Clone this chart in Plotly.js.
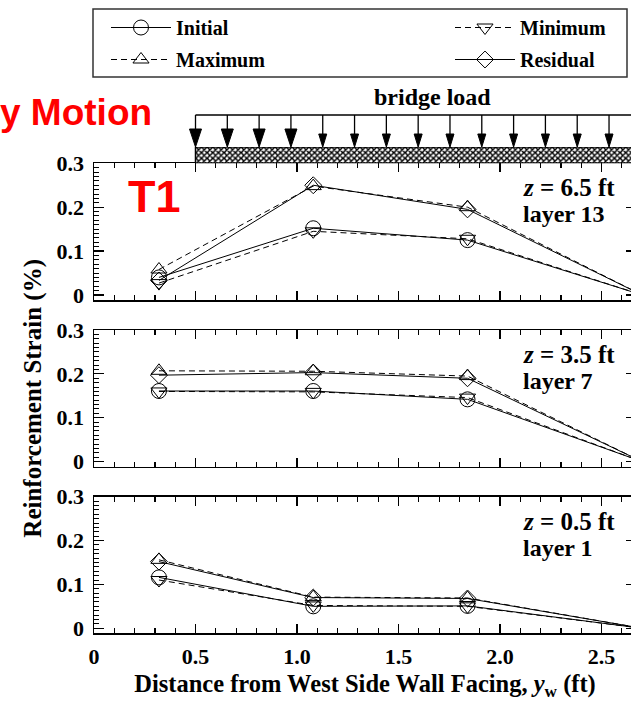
<!DOCTYPE html>
<html>
<head>
<meta charset="utf-8">
<script src="https://cdn.plot.ly/plotly-3.0.1.min.js"></script>
<style>
html,body{margin:0;padding:0;overflow:hidden;background:#fff;}
#chart{width:636px;height:702px;}
</style>
</head>
<body>
<div id="chart"></div>
<script>
// ---------------- DATA ----------------
const distance = [0.32, 1.08, 1.84, 2.7];   // ft from west side wall facing

// layer 13 (z = 6.5 ft)
const L13_initial  = [0.040, 0.152, 0.125, 0.0];
const L13_maximum  = [0.058, 0.248, 0.200, 0.0];
const L13_minimum  = [0.027, 0.145, 0.128, 0.0];
const L13_residual = [0.033, 0.250, 0.195, 0.0];

// layer 7 (z = 3.5 ft)
const L7_initial  = [0.161, 0.161, 0.142, 0.0];
const L7_maximum  = [0.207, 0.206, 0.195, 0.0];
const L7_minimum  = [0.160, 0.159, 0.146, 0.0];
const L7_residual = [0.197, 0.203, 0.190, 0.0];

// layer 1 (z = 0.5 ft)
const L1_initial  = [0.116, 0.050, 0.051, 0.0];
const L1_maximum  = [0.156, 0.071, 0.069, 0.0];
const L1_minimum  = [0.110, 0.052, 0.050, 0.0];
const L1_residual = [0.152, 0.070, 0.068, 0.0];

const seriesNames = ['Initial', 'Maximum', 'Minimum', 'Residual'];
const depthLabels = ['6.5', '3.5', '0.5'];
const layerLabels = ['13', '7', '1'];
const xTickVals = [0, 0.5, 1, 1.5, 2, 2.5];
const xTickText = ['0', '0.5', '1.0', '1.5', '2.0', '2.5'];
const yTickVals = [0, 0.1, 0.2, 0.3];
const yTickText = ['0', '0.1', '0.2', '0.3'];

// ---------------- LAYOUT CONSTANTS ----------------
const W = 636, H = 702, ML = 94;
const PW = W - ML;
const PX_PER_FT = 203;
const XMAX = PW / PX_PER_FT;
const YMIN = -0.0115, YMAX = 0.3;
const py = p => 1 - p / H;              // pixel row -> paper y
const pxp = p => (p - ML) / PW;         // pixel col -> paper x
const panelPix = [[163.3, 300], [330, 466.7], [496.7, 633.3]];
const FONT = 'Liberation Serif, Times New Roman, serif';
const SANS = 'Liberation Sans, Arial, sans-serif';

const panelData = [
  [L13_initial, L13_maximum, L13_minimum, L13_residual],
  [L7_initial, L7_maximum, L7_minimum, L7_residual],
  [L1_initial, L1_maximum, L1_minimum, L1_residual]
];

const styles = {
  Initial:  {symbol: 'circle-open',        dash: 'solid',   size: 15, legend: 'legend'},
  Maximum:  {symbol: 'triangle-up-open',   dash: '6px,4px', size: 14, legend: 'legend'},
  Minimum:  {symbol: 'triangle-down-open', dash: '6px,4px', size: 14, legend: 'legend2'},
  Residual: {symbol: 'diamond-open',       dash: 'solid',   size: 13, legend: 'legend2'}
};

const traces = [];
const axSuffix = ['', '2', '3'];
panelData.forEach((series, i) => {
  seriesNames.forEach((name, k) => {
    const s = styles[name];
    traces.push({
      type: 'scatter', mode: 'lines+markers',
      x: distance, y: series[k],
      xaxis: 'x' + axSuffix[i], yaxis: 'y' + axSuffix[i],
      name: name, legend: s.legend, legendgroup: name, showlegend: i === 0,
      line: {color: 'black', width: 1, dash: s.dash},
      marker: {symbol: s.symbol, size: s.size, color: 'black', line: {color: 'black', width: 1}},
      cliponaxis: true, hoverinfo: 'skip'
    });
  });
});

// hatched bridge-load slab (decoration)
const LOAD_START = 0.5;
traces.push({
  type: 'scatter', mode: 'lines', xaxis: 'x4', yaxis: 'y4',
  x: [LOAD_START, XMAX + 0.2, XMAX + 0.2, LOAD_START, LOAD_START],
  y: [0, 0, 1, 1, 0],
  fill: 'toself', fillcolor: 'white',
  fillpattern: {shape: 'x', size: 4, solidity: 0.6, fgcolor: 'black', bgcolor: 'white'},
  line: {color: 'black', width: 1.5}, showlegend: false, hoverinfo: 'skip', cliponaxis: false
});

const axisCommon = {
  showgrid: false, zeroline: false, showline: true, linecolor: 'black', linewidth: 1.5,
  mirror: 'ticks', ticks: 'inside', tickcolor: 'black', tickwidth: 1.2, fixedrange: true
};

const legendCommon = {
  yanchor: 'top', xanchor: 'left', bgcolor: 'rgba(0,0,0,0)', borderwidth: 0, itemwidth: 60,
  font: {family: FONT, size: 20, color: 'black', weight: 'bold'}, tracegroupgap: 3
};

const layout = {
  width: W, height: H,
  margin: {l: ML, r: 0, t: 0, b: 0, pad: 0},
  paper_bgcolor: 'white', plot_bgcolor: 'rgba(0,0,0,0)',
  font: {family: FONT, size: 22, color: 'black', weight: 'bold'},
  showlegend: true,
  legend: Object.assign({}, legendCommon, {x: pxp(106), y: py(8)}),
  legend2: Object.assign({}, legendCommon, {x: pxp(450), y: py(8)}),
  xaxis4: {domain: [0, 1], range: [0, XMAX], anchor: 'y4', visible: false, fixedrange: true},
  yaxis4: {domain: [py(163.3), py(147)], range: [0, 1], anchor: 'x4', visible: false, fixedrange: true},
  shapes: [],
  annotations: []
};

panelPix.forEach((pp, i) => {
  const sx = axSuffix[i];
  layout['xaxis' + sx] = Object.assign({}, axisCommon, {
    domain: [0, 1], anchor: 'y' + sx, range: [0, XMAX],
    tickmode: 'array', tickvals: xTickVals, ticktext: xTickText, ticklen: 9,
    showticklabels: i === 2, ticklabelstandoff: 3,
    minor: {tickmode: 'linear', tick0: 0, dtick: 0.1, ticklen: 5, ticks: 'inside', tickcolor: 'black', tickwidth: 1.2}
  });
  if (i > 0) layout['xaxis' + sx].matches = 'x';
  layout['yaxis' + sx] = Object.assign({}, axisCommon, {
    domain: [py(pp[1]), py(pp[0])], anchor: 'x' + sx, range: [YMIN, YMAX],
    tickmode: 'array', tickvals: yTickVals, ticktext: yTickText, ticklen: 10,
    ticklabelstandoff: 4,
    minor: {tickmode: 'linear', tick0: 0, dtick: 0.01, ticklen: 5, ticks: 'inside', tickcolor: 'black', tickwidth: 1}
  });
  // z / layer labels
  layout.annotations.push({
    xref: 'paper', yref: 'paper', x: pxp(521), y: py(pp[0] + 24.5),
    xanchor: 'left', yanchor: 'middle', showarrow: false,
    text: '<i>z</i> = ' + depthLabels[i] + ' ft', font: {size: 25}
  });
  layout.annotations.push({
    xref: 'paper', yref: 'paper', x: pxp(521), y: py(pp[0] + 51),
    xanchor: 'left', yanchor: 'middle', showarrow: false,
    text: 'layer ' + layerLabels[i], font: {size: 24}
  });
});

layout.xaxis3.title = {text: 'Distance from West Side Wall Facing, <i>y</i><sub>w</sub> (ft)', font: {size: 24.5}, standoff: 6};
layout.yaxis2.title = {text: 'Reinforcement Strain (%)', font: {size: 25}, standoff: 8};

// other texts
layout.annotations.push({
  xref: 'paper', yref: 'paper', x: pxp(432), y: py(97), xanchor: 'center', yanchor: 'middle',
  showarrow: false, text: 'bridge load', font: {size: 24}
});
layout.annotations.push({
  xref: 'paper', yref: 'paper', x: pxp(154), y: py(112), xanchor: 'right', yanchor: 'middle',
  showarrow: false, text: 'y Motion', font: {family: SANS, size: 37, color: '#ff0000', weight: 'bold'}
});
layout.annotations.push({
  xref: 'paper', yref: 'paper', x: pxp(126), y: py(197), xanchor: 'left', yanchor: 'middle',
  showarrow: false, text: 'T1', font: {family: SANS, size: 45, color: '#ff0000', weight: 'bold'}
});

// legend frame
layout.shapes.push({
  type: 'rect', xref: 'paper', yref: 'paper', x0: pxp(93), x1: pxp(627), y0: py(9), y1: py(77),
  line: {color: '#333', width: 1.5}, fillcolor: 'rgba(0,0,0,0)', layer: 'above'
});

// bridge load line and arrows
const LINE_Y = 115, TIP_Y = 147;
const ARROW_SPACING = 0.1567;
layout.shapes.push({
  type: 'line', xref: 'x', yref: 'paper', x0: LOAD_START, x1: XMAX + 0.1, y0: py(LINE_Y), y1: py(LINE_Y),
  line: {color: 'black', width: 1.5}
});
for (let k = 0; LOAD_START + k * ARROW_SPACING < XMAX + 0.05; k++) {
  const ax = LOAD_START + k * ARROW_SPACING;
  const big = k < 4;
  const hw = (big ? 6 : 4) / PX_PER_FT;
  const hh = big ? 18 : 13;
  layout.shapes.push({
    type: 'line', xref: 'x', yref: 'paper', x0: ax, x1: ax, y0: py(LINE_Y), y1: py(TIP_Y - hh + 1),
    line: {color: 'black', width: 1.3}
  });
  layout.shapes.push({
    type: 'path', xref: 'x', yref: 'paper',
    path: 'M' + (ax - hw) + ',' + py(TIP_Y - hh) + ' L' + (ax + hw) + ',' + py(TIP_Y - hh) + ' L' + ax + ',' + py(TIP_Y) + ' Z',
    fillcolor: 'black', line: {color: 'black', width: 1}
  });
}

Plotly.newPlot('chart', traces, layout, {displayModeBar: false, staticPlot: true});
</script>
</body>
</html>
